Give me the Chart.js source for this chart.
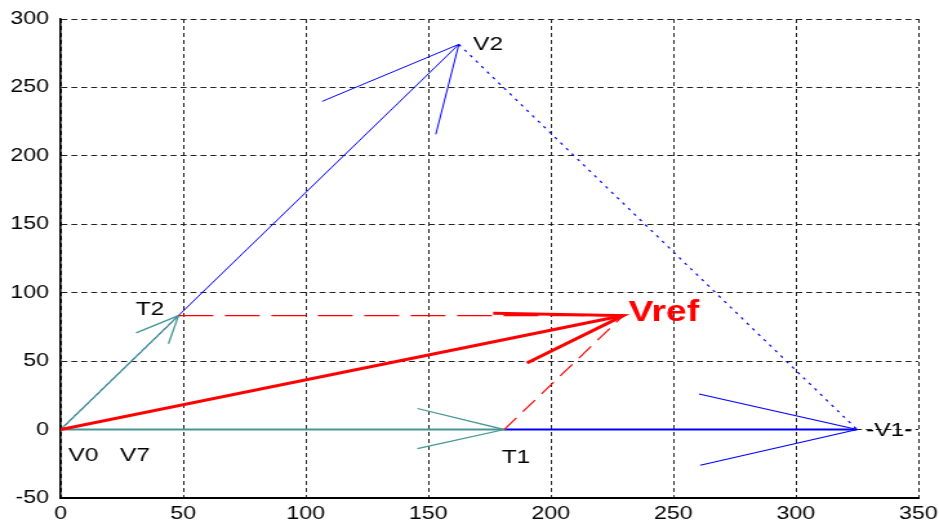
<!DOCTYPE html>
<html>
<head>
<meta charset="utf-8">
<script src="https://cdn.jsdelivr.net/npm/chart.js@4.4.0/dist/chart.umd.min.js"></script>
<style>
  html, body { margin: 0; padding: 0; background: #fff; overflow: hidden; }
  /* the reference is a horizontally stretched image, so draw narrow and stretch */
  #wrap { width: 728px; height: 525px; transform: scaleX(1.2898); transform-origin: 0 0; }
</style>
</head>
<body>
<div id="wrap"><canvas id="myChart"></canvas></div>
<script>
// space vector points (x, y)
const origin = [0, 0]
const V1 = [325, 0]
const V2 = [162.5, 281.5]
const T1 = [181, 0]
const T2 = [48.1, 83.3]
const Vref = [229.6, 83.3]

// arrow head barb ends
const V1Head = [[260.5, 26], [261, -26]]
const V2Head = [[106.7, 239.8], [153.1, 215.7]]
const T1Head = [[145.6, 15.4], [145.6, -14]]
const T2Head = [[30.8, 70.7], [44, 62.7]]
const VrefHead = [[190.3, 48.7], [176.5, 85]]

const xTicks = [0, 50, 100, 150, 200, 250, 300, 350]
const yTicks = [-50, 0, 50, 100, 150, 200, 250, 300]

const BLUE = '#0000ff'
const TEAL = 'rgb(70,150,150)'
const RED = '#ff0000'

const pt = p => ({ x: p[0], y: p[1] })
const seg = (pts, color, width, dash) => ({
  data: pts.map(pt),
  showLine: true,
  borderColor: color,
  backgroundColor: color,
  borderWidth: width,
  borderDash: dash || [],
  pointRadius: 0,
  pointHoverRadius: 0,
  fill: false,
  tension: 0
})
const head = (h, tip, color, width) => seg([h[0], tip, h[1]], color, width)

// first in list is drawn on top
const datasets = [
  seg([origin, Vref], RED, 3),
  head(VrefHead, Vref, RED, 3),
  seg([T2, Vref], RED, 1.2, [27, 9]),
  seg([T1, Vref], RED, 1.2, [15, 8]),
  seg([origin, T2], TEAL, 1.3),
  head(T2Head, T2, TEAL, 1.3),
  seg([origin, T1], TEAL, 2),
  head(T1Head, T1, TEAL, 1.3),
  seg([origin, V2], BLUE, 1),
  head(V2Head, V2, BLUE, 1),
  // V1 shaft: the part from origin to T1 is covered by T1
  seg([T1, V1], BLUE, 2),
  head(V1Head, V1, BLUE, 1.1),
  seg([V2, V1], BLUE, 1.2, [2.5, 4.5])
]

const FONT = '"Liberation Sans", Arial, sans-serif'

const textLabels = {
  id: 'textLabels',
  afterDatasetsDraw (chart) {
    const { ctx, scales } = chart
    const at = p => [scales.x.getPixelForValue(p[0]), scales.y.getPixelForValue(p[1])]
    const put = (txt, p, dx, dy, align, font, color) => {
      const [x, y] = at(p)
      ctx.save()
      ctx.font = font
      ctx.fillStyle = color
      ctx.textAlign = align
      ctx.textBaseline = 'middle'
      ctx.fillText(txt, x + dx, y + dy)
      ctx.restore()
    }
    const f = '19px ' + FONT
    put('V2', V2, 11, 0, 'left', f, '#000')
    put('-V1-', V1, 7, 1, 'left', f, '#000')
    put('T2', T2, -11, -6, 'right', f, '#000')
    put('T1', T1, -2, 28, 'left', f, '#000')
    put('V0', origin, 6, 26, 'left', f, '#000')
    put('V7', origin, 46, 26, 'left', f, '#000')
    put('Vref', Vref, 4, -3, 'left', 'bold 29px ' + FONT, RED)
  }
}

new Chart(document.getElementById('myChart').getContext('2d'), {
  type: 'scatter',
  data: { datasets },
  options: {
    responsive: true,
    maintainAspectRatio: false,
    animation: false,
    events: [],
    layout: { padding: { left: 0, top: 19, right: 16, bottom: 0 } },
    plugins: { legend: { display: false }, tooltip: { enabled: false } },
    scales: {
      x: {
        type: 'linear',
        min: xTicks[0],
        max: xTicks[xTicks.length - 1],
        afterBuildTicks: s => { s.ticks = xTicks.map(v => ({ value: v })) },
        afterFit: s => { s.height = 27; s.paddingLeft = 0; s.paddingRight = 0 },
        ticks: { color: '#000', padding: 5, font: { family: FONT, size: 18 } },
        grid: { color: '#222', lineWidth: 1, drawTicks: false },
        border: { display: true, color: '#000', width: 2, dash: [4, 3] }
      },
      y: {
        type: 'linear',
        min: yTicks[0],
        max: yTicks[yTicks.length - 1],
        afterBuildTicks: s => { s.ticks = yTicks.map(v => ({ value: v })) },
        afterFit: s => { s.width = 47; s.paddingTop = 0; s.paddingBottom = 0 },
        ticks: { color: '#000', padding: 9, font: { family: FONT, size: 18 } },
        grid: { color: '#222', lineWidth: 1, drawTicks: false },
        border: { display: true, color: '#000', width: 1.6, dash: [4.6, 3.1] }
      }
    }
  },
  plugins: [textLabels]
})
</script>
</body>
</html>
